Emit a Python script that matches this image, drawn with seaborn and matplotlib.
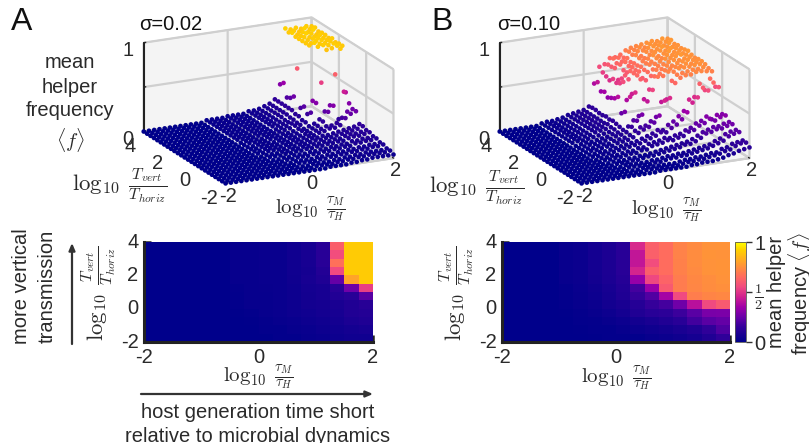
import numpy as np
import matplotlib
matplotlib.use("Agg")
import matplotlib.pyplot as plt
import seaborn as sns
from matplotlib.colors import LinearSegmentedColormap
from mpl_toolkits.mplot3d import Axes3D  # noqa

sns.set_style("white")
plt.rcParams["font.family"] = ["Liberation Sans", "DejaVu Sans"]
plt.rcParams["mathtext.fontset"] = "cm"
plt.rcParams["axes.unicode_minus"] = False

x_ticks = [-2, 0, 2]
y_ticks = [-2, 0, 2, 4]
x_vals = np.linspace(-2, 2, 33)
y_vals = np.linspace(4, -2, 25)  # first row below is the top row, y = 4

# percent helper frequency, rows from y=4 down to y=-2; columns x=-0.5 .. 2 (left of that all 0)
A_right = [
[2,2,2,2,3,3,3,3,5,5,6,8,10,14,30,92,90,91,89,91,90],
[2,2,2,2,3,3,3,3,5,5,6,8,10,14,34,90,91,89,92,90,91],
[2,2,2,2,3,3,3,3,5,5,6,8,10,14,20,92,89,91,90,92,89],
[2,2,2,2,3,3,3,3,5,5,6,8,10,14,22,90,90,92,91,89,90],
[2,2,2,2,3,3,3,3,5,5,6,8,10,14,26,90,91,90,90,91,90],
[2,2,2,2,3,3,3,3,5,5,6,8,10,14,60,90,90,91,91,90,89],
[2,2,2,2,3,3,3,3,5,5,6,7,9,12,18,90,89,91,91,90,91],
[2,2,2,2,3,3,3,3,5,5,6,7,9,12,22,90,92,90,90,91,89],
[2,2,2,2,3,3,3,3,4,5,6,8,8,10,16,30,90,91,90,91,90],
[2,2,2,2,3,3,3,3,4,5,6,8,8,10,20,30,52,88,89,91,90],
[1,2,2,2,2,3,3,3,4,4,5,7,6,8,10,14,22,28,62,90,40],
[1,2,2,2,2,3,3,3,4,4,5,7,6,8,10,14,24,30,14,44,30],
[1,1,2,2,2,2,3,3,4,4,5,6,6,8,9,11,11,13,18,24,26],
[1,1,2,2,2,2,3,3,4,4,5,6,6,8,9,11,11,13,20,24,26],
[1,1,2,2,2,2,3,3,4,4,5,6,6,7,7,8,9,10,11,12,14],
[1,1,2,2,2,2,3,3,4,4,5,6,6,7,7,8,9,10,11,12,14],
[0,1,1,1,2,2,3,3,4,4,5,5,6,6,7,7,9,10,10,11,12],
[0,1,1,1,2,2,3,3,4,4,5,5,6,6,7,7,9,10,10,11,12],
[0,0,0,1,1,2,2,2,3,3,4,4,5,5,6,6,8,8,9,9,10],
[0,0,0,1,1,2,2,2,3,3,4,4,5,5,6,6,8,8,9,9,10],
[0,0,0,0,1,1,1,1,2,2,3,3,4,4,5,5,6,6,7,7,8],
[0,0,0,0,1,1,1,1,2,2,3,3,4,4,5,5,6,6,7,7,8],
[0,0,0,0,0,0,1,1,1,1,2,2,3,3,4,4,5,5,5,5,6],
[0,0,0,0,0,0,1,1,1,1,2,2,3,3,4,4,5,5,5,5,6],
[0,0,0,0,0,0,0,0,1,1,1,1,2,2,3,3,4,4,4,4,4],
]
# columns x=-1 .. 2 (left of that all 0)
B_right = [
[2,3,3,4,5,7,8,9,10,13,38,56,58,64,64,66,70,72,73,74,75,76,75,77,76],
[2,3,3,4,5,7,8,9,10,14,42,52,60,66,66,65,71,72,74,73,76,75,76,76,77],
[2,3,3,4,5,7,8,9,10,14,34,50,60,63,64,67,70,73,73,75,76,76,75,77,75],
[2,3,3,4,5,7,8,9,10,13,36,48,61,64,66,65,72,70,74,74,75,77,76,75,76],
[2,3,3,4,5,7,8,9,10,13,32,52,50,60,64,66,71,70,73,75,76,75,77,76,75],
[2,3,3,4,5,7,8,9,10,14,34,50,54,60,65,66,70,72,75,73,75,77,75,76,76],
[2,3,3,4,5,7,8,9,10,13,36,52,60,64,64,67,70,71,74,73,76,75,76,75,77],
[2,3,3,4,5,7,8,9,11,14,40,56,58,64,65,66,71,71,73,75,75,76,77,76,75],
[2,3,3,4,5,7,8,9,10,13,24,38,44,64,60,66,68,71,72,74,75,74,75,76,74],
[2,3,3,4,5,6,7,8,10,12,28,44,48,62,60,64,70,70,73,72,74,75,76,75,75],
[1,2,3,3,4,5,6,8,9,11,14,20,24,42,52,66,68,71,72,73,73,75,74,75,75],
[1,2,3,3,4,5,6,8,9,11,16,22,28,42,54,68,68,72,71,74,74,74,75,75,74],
[1,2,2,3,4,4,6,7,8,10,14,17,18,22,26,42,44,64,70,71,72,73,73,74,72],
[1,2,2,3,4,4,6,7,8,10,14,17,19,23,30,46,48,64,69,71,71,73,73,72,71],
[1,1,2,2,3,4,5,6,7,8,10,12,14,17,16,21,24,29,34,46,48,62,54,66,56],
[1,1,2,2,3,4,5,6,7,8,10,12,14,17,16,20,23,28,35,45,50,60,56,64,58],
[0,1,1,2,2,3,4,4,6,6,9,10,11,13,12,14,15,18,20,24,26,30,26,30,30],
[0,1,1,2,2,3,4,4,6,6,9,10,11,13,12,14,15,19,20,24,26,30,27,30,31],
[0,0,1,1,1,2,2,3,3,4,5,6,7,8,9,10,11,13,16,19,21,23,23,25,26],
[0,0,1,1,1,2,2,3,4,4,5,6,7,8,9,11,11,13,16,20,21,23,23,25,26],
[0,0,0,1,1,1,1,1,2,2,3,4,4,5,5,6,7,8,9,10,13,15,19,21,22],
[0,0,0,1,1,1,1,1,2,2,3,4,4,5,5,6,7,8,9,11,13,15,19,21,22],
[0,0,0,0,0,1,1,1,1,1,1,1,2,3,3,4,4,5,6,6,9,10,13,14,15],
[0,0,0,0,0,1,1,1,1,1,1,1,2,3,3,4,4,5,6,7,9,10,13,15,15],
[0,0,0,0,0,0,0,1,1,1,1,1,1,2,2,3,3,3,4,5,7,8,10,11,12],
]

z_A = np.hstack([np.zeros((25, 12)), np.array(A_right, float)]) / 100
z_B = np.hstack([np.zeros((25, 8)), np.array(B_right, float)]) / 100

cmap = LinearSegmentedColormap.from_list("helper", [
    (0.00, "#00008b"), (0.15, "#33009a"), (0.25, "#6a00a8"), (0.35, "#a000a8"),
    (0.45, "#d0208f"), (0.55, "#f04a80"), (0.65, "#ff6a60"), (0.75, "#ff8f3c"),
    (0.92, "#ffd000"), (1.00, "#ffff00")])

W, H = 809, 443
fig = plt.figure(figsize=(W / 100, H / 100), dpi=100)
TXT = "#2a2a2a"
FS = 14.5


def rect(x0, y0, x1, y1):
    return [x0 / W, 1 - y1 / H, (x1 - x0) / W, (y1 - y0) / H]


def label(x, y, s, **kw):
    kw.setdefault("fontsize", FS)
    kw.setdefault("color", TXT)
    kw.setdefault("ha", "center")
    kw.setdefault("va", "center")
    fig.text(x / W, 1 - y / H, s, **kw)


def surface(z, cx):
    cy = 105
    ax = fig.add_axes(rect(cx - 170, cy - 170, cx + 170, cy + 170), projection="3d",
                      proj_type="ortho", facecolor="none")
    ax.patch.set_alpha(0)
    X, Y = np.meshgrid(x_vals, y_vals)
    ax.scatter(X.ravel(), Y.ravel(), z.ravel(), c=z.ravel(), cmap=cmap, vmin=0, vmax=1,
               s=11, linewidths=0, depthshade=False, alpha=1)
    ax.set_xlim(-2, 2)
    ax.set_ylim(-2, 4)
    ax.set_zlim(0, 1)
    ax.view_init(elev=18, azim=-116)
    ax.set_box_aspect((1, 1, 0.50), zoom=0.80)
    ax.set_xticks(x_ticks)
    ax.set_yticks(y_ticks)
    ax.set_zticks([0, 0.5, 1])
    ax.set_xticklabels([str(v) for v in x_ticks], fontsize=FS, color=TXT)
    ax.set_yticklabels([str(v) for v in y_ticks], fontsize=FS, color=TXT, ha="right")
    ax.set_zticklabels(["0", "", "1"], fontsize=FS, color=TXT)
    ax.tick_params(axis="x", pad=-5)
    ax.tick_params(axis="y", pad=-2)
    ax.tick_params(axis="z", pad=0)
    for a in (ax.xaxis, ax.yaxis, ax.zaxis):
        a.set_pane_color((0.955, 0.955, 0.955, 1))
        a.pane.set_edgecolor("#d0d0d0")
        a._axinfo["grid"].update(color="#cfcfcf", linewidth=1.6, linestyle="-")
        a._axinfo["tick"].update(color="#333333", linewidth={True: 1.0, False: 0.5},
                                 inward_factor=0.0, outward_factor=0.15)
    ax.xaxis.line.set_color("#cfcfcf")
    ax.xaxis.line.set_linewidth(1.6)
    ax.yaxis.line.set_color("#333333")
    ax.yaxis.line.set_linewidth(1.5)
    ax.zaxis.line.set_color("#222222")
    ax.zaxis.line.set_linewidth(1.5)
    return ax


def heat(z, x0, x1, colorbar=False):
    grid = z[:24, :32].reshape(12, 2, 16, 2).mean(axis=(1, 3))
    ax = fig.add_axes(rect(x0, 242, x1, 342))
    kw = {}
    if colorbar:
        cax = fig.add_axes(rect(735, 242, 746, 342))
        kw = dict(cbar=True, cbar_ax=cax)
    else:
        kw = dict(cbar=False)
    sns.heatmap(grid, ax=ax, vmin=0, vmax=1, cmap=cmap, square=False, **kw)
    ax.set_xticks([0, 8, 16])
    ax.set_xticklabels([str(v) for v in x_ticks], fontsize=FS, color=TXT, rotation=0)
    ax.set_yticks([12, 8, 4, 0])
    ax.set_yticklabels([str(v) for v in y_ticks], fontsize=FS, color=TXT, rotation=0)
    ax.tick_params(axis="both", direction="in", length=5, width=1.8, color="#222222", pad=4,
                   left=True, bottom=True, right=False, top=False)
    for side in ("left", "bottom"):
        ax.spines[side].set_visible(True)
        ax.spines[side].set_linewidth(2.2)
        ax.spines[side].set_color("#222222")
    if colorbar:
        cb = ax.collections[0].colorbar
        cb.set_ticks([0, 0.5, 1])
        cb.set_ticklabels(["0", r"$\frac{1}{2}$", "1"])
        cax.tick_params(direction="out", length=4, width=1.0, color="#333333",
                        labelsize=FS, labelcolor=TXT, pad=2, right=True)
        cb.outline.set_visible(True)
        cb.outline.set_edgecolor("#555555")
        cb.outline.set_linewidth(0.6)
    return ax


surface(z_A, 264)
surface(z_B, 620)
heat(z_A, 144, 373)
heat(z_B, 502, 730, colorbar=True)

RATIO_T = r"$\log_{10}\;\frac{T_{vert}}{T_{horiz}}$"
RATIO_M = r"$\log_{10}\;\frac{\tau_M}{\tau_H}$"

label(11, 22, "A", fontsize=23, color="#111111", ha="left")
label(431, 22, "B", fontsize=23, color="#111111", ha="left")
label(139, 25, "σ=0.02", ha="left", color="#111111")
label(497, 25, "σ=0.10", ha="left", color="#111111")
label(70, 63, "mean")
label(70, 88, "helper")
label(70, 111, "frequency")
label(70, 140, r"$\langle f\rangle$", fontsize=14.5)

label(120, 186, RATIO_T, fontsize=16.5)
label(310, 209, RATIO_M, fontsize=15)
label(477, 188, RATIO_T, fontsize=16.5)
label(666, 210, RATIO_M, fontsize=15)

label(99, 293, RATIO_T, fontsize=16.5, rotation=90)
label(258, 377, RATIO_M, fontsize=15)
label(457, 293, RATIO_T, fontsize=16.5, rotation=90)
label(616, 378, RATIO_M, fontsize=15)

label(22, 286, "more vertical", rotation=90)
label(47, 286, "transmission", rotation=90)
label(258, 412, "host generation time short")
label(258, 436, "relative to microbial dynamics")
label(777, 292, "mean helper", rotation=90)
label(800, 294, r"frequency $\langle f\rangle$", rotation=90)

arrow = dict(arrowstyle="-|>,head_width=0.18,head_length=0.42", color="#333333", lw=1.6,
             shrinkA=0, shrinkB=0)
ov = fig.add_axes([0, 0, 1, 1], facecolor="none")
ov.set_axis_off()
ov.set_xlim(0, W)
ov.set_ylim(H, 0)
ov.annotate("", xy=(72, 243), xytext=(72, 344), arrowprops=arrow)
ov.annotate("", xy=(373, 394), xytext=(141, 394), arrowprops=arrow)

fig.savefig("out.png", dpi=100)
